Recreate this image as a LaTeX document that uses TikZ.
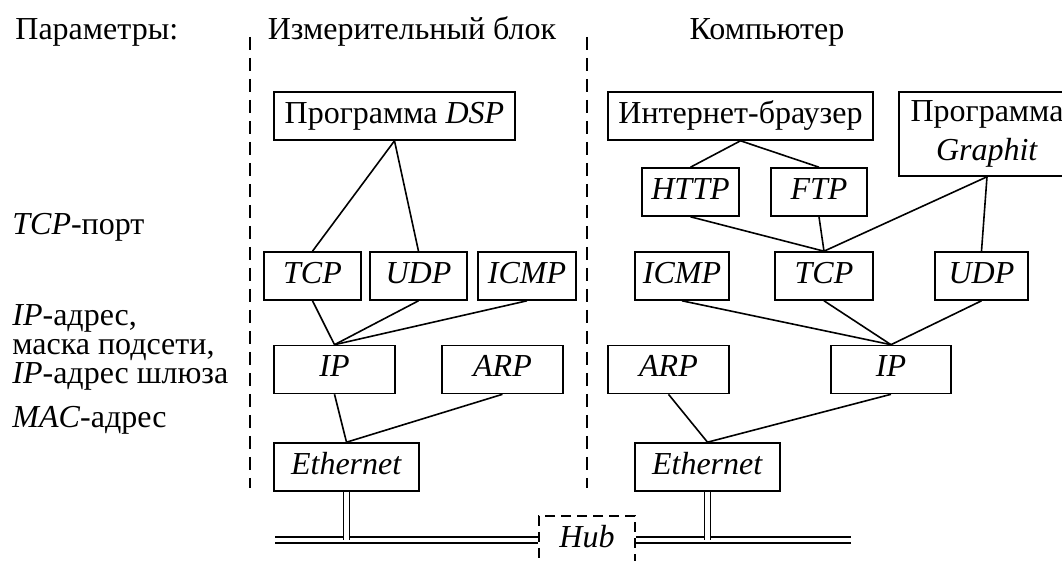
\documentclass[tikz,border=0pt]{standalone}
\usepackage{fontspec}
\setmainfont{Liberation Serif}
\begin{document}
\begin{tikzpicture}[x=0.5pt,y=-0.5pt,
  every node/.style={font=\fontsize{16pt}{19.5pt}\selectfont, inner sep=0pt},
  box/.style={draw, line width=0.8pt, minimum height=24pt, anchor=center},
  tbox/.style={box, text height=11pt, text depth=3.5pt},
  wire/.style={line width=0.8pt},
  sepline/.style={line width=0.8pt, dash pattern=on 6.5pt off 4pt},
  hubbox/.style={draw, line width=0.8pt, dash pattern=on 5pt off 3pt, minimum width=48pt, minimum height=40pt, anchor=north},
  bus/.style={double, double distance=2.2pt, line width=0.75pt},
  lbl/.style={anchor=base west, align=left},
  head/.style={anchor=base}]
\useasboundingbox (0,0) rectangle (1062,561);

% headers
\node[lbl] (hpar) at (15,40) {Параметры:};
\node[head] (hmeas) at (412,40) {Измерительный блок};
\node[head] (hcomp) at (767,40) {Компьютер};

% left labels
\node[lbl] (ltcp) at (12,235) {\textit{TCP}-порт};
\node[align=left, anchor=west, font=\fontsize{16pt}{14.5pt}\selectfont] (lip) at (12,347) {\textit{IP}-адрес,\\маска подсети,\\\textit{IP}-адрес шлюза};
\node[lbl] (lmac) at (12,428) {\textit{MAC}-адрес};

% separators
\coordinate (s1t) at (250,37); \coordinate (s1b) at (250,488);
\coordinate (s2t) at (587,37); \coordinate (s2b) at (587,488);
\draw[sepline] (s1t) -- (s1b);
\draw[sepline] (s2t) -- (s2b);

% measuring unit
\node[tbox, minimum width=120.5pt] (dsp) at (394.5,116) {Программа \textit{DSP}};
\node[tbox, minimum width=48.5pt] (tcpa) at (312.5,276) {\textit{TCP}};
\node[tbox, minimum width=48.5pt] (udpa) at (418.5,276) {\textit{UDP}};
\node[tbox, minimum width=49pt] (icmpa) at (527,276) {\textit{ICMP}};
\node[tbox, minimum width=60.5pt] (ipa) at (334.5,369.5) {\textit{IP}};
\node[tbox, minimum width=60.5pt] (arpa) at (502.5,369.5) {\textit{ARP}};
\node[tbox, minimum width=72.5pt] (etha) at (346.5,467) {\textit{Ethernet}};

% computer
\node[tbox, minimum width=132.5pt] (brow) at (740.5,116) {Интернет-браузер};
\node[box, minimum width=88pt, minimum height=42pt, align=center] (graph) at (987,134) {Программа\\\textit{Graphit}};
\node[tbox, minimum width=48.5pt] (http) at (690.5,192) {\textit{HTTP}};
\node[tbox, minimum width=48pt] (ftp) at (819,192) {\textit{FTP}};
\node[tbox, minimum width=47pt] (icmpb) at (682,276) {\textit{ICMP}};
\node[tbox, minimum width=49pt] (tcpb) at (824,276) {\textit{TCP}};
\node[tbox, minimum width=46.5pt] (udpb) at (981.5,276) {\textit{UDP}};
\node[tbox, minimum width=60.5pt] (arpb) at (668.5,369.5) {\textit{ARP}};
\node[tbox, minimum width=60pt] (ipb) at (891,369.5) {\textit{IP}};
\node[tbox, minimum width=72.5pt] (ethb) at (707.5,467) {\textit{Ethernet}};

% connectors, measuring unit
\draw[wire] (dsp.south) -- (tcpa.north);
\draw[wire] (dsp.south) -- (udpa.north);
\draw[wire] (tcpa.south) -- (ipa.north);
\draw[wire] (udpa.south) -- (ipa.north);
\draw[wire] (icmpa.south) -- (ipa.north);
\draw[wire] (ipa.south) -- (etha.north);
\draw[wire] (arpa.south) -- (etha.north);

% connectors, computer
\draw[wire] (brow.south) -- (http.north);
\draw[wire] (brow.south) -- (ftp.north);
\draw[wire] (http.south) -- (tcpb.north);
\draw[wire] (ftp.south) -- (tcpb.north);
\draw[wire] (graph.south) -- (tcpb.north);
\draw[wire] (graph.south) -- (udpb.north);
\draw[wire] (icmpb.south) -- (ipb.north);
\draw[wire] (tcpb.south) -- (ipb.north);
\draw[wire] (udpb.south) -- (ipb.north);
\draw[wire] (arpb.south) -- (ethb.north);
\draw[wire] (ipb.south) -- (ethb.north);

% hub and bus
\node[hubbox] (hub) at (587,515) {};
\node (hubt) at (587,537) {\textit{Hub}};
\coordinate (busL) at (275,540);
\coordinate (busR) at (851,540);
\draw[bus] (busL) -- (busL -| hub.west);
\draw[bus] (hub.east |- busR) -- (busR);
\draw[bus] (etha.south) -- (etha.south |- busL);
\draw[bus] (ethb.south) -- (ethb.south |- busR);
\end{tikzpicture}
\end{document}
